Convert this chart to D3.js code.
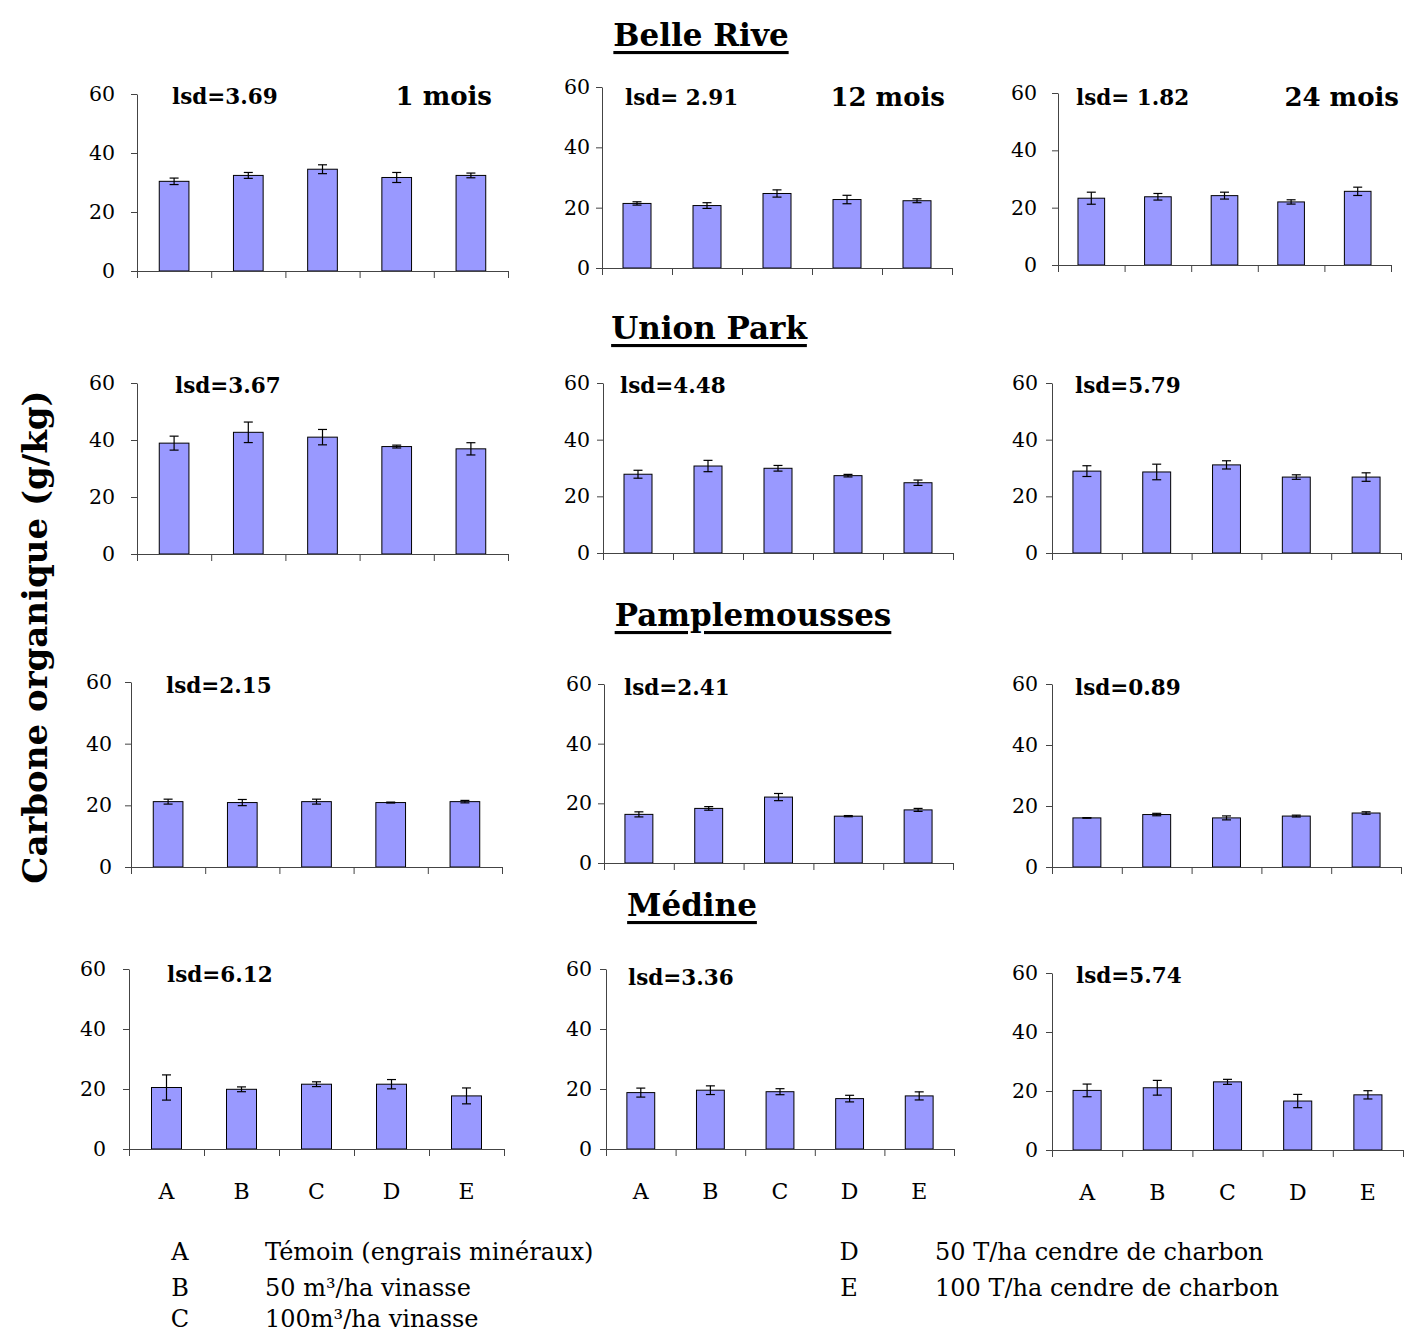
<!DOCTYPE html>
<html><head><meta charset="utf-8">
<script src="https://cdn.jsdelivr.net/npm/d3@7/dist/d3.min.js"></script>
<style>body{margin:0;background:#fff}svg{display:block}</style>
</head><body>
<script>
// ---------- DATA ----------
const categories = ["A","B","C","D","E"];
const sites = ["Belle Rive","Union Park","Pamplemousses","Médine"];
const periods = ["1 mois","12 mois","24 mois"];
const yTicks = [0,20,40,60];
const lsdLabels = [
  ["lsd=3.69","lsd= 2.91","lsd= 1.82"],
  ["lsd=3.67","lsd=4.48","lsd=5.79"],
  ["lsd=2.15","lsd=2.41","lsd=0.89"],
  ["lsd=6.12","lsd=3.36","lsd=5.74"]
];
// means [period][treatment]
const meansBelleRive     = [[30.4,32.4,34.5,31.7,32.4],[21.4,20.7,24.7,22.7,22.3],[23.3,23.8,24.2,22.0,25.7]];
const meansUnionPark     = [[38.9,42.7,41.0,37.7,36.9],[27.8,30.7,29.9,27.3,24.8],[28.9,28.6,31.1,26.8,26.8]];
const meansPamplemousses = [[21.2,20.9,21.2,20.9,21.2],[16.3,18.3,22.1,15.7,17.8],[16.1,17.2,16.1,16.7,17.7]];
const meansMedine        = [[20.5,19.9,21.6,21.6,17.7],[18.8,19.6,19.1,16.8,17.7],[20.2,21.1,23.1,16.6,18.7]];
// error half-widths
const errBelleRive     = [[1.1,1.0,1.5,1.7,0.8],[0.55,0.95,1.2,1.4,0.65],[2.1,1.15,1.2,0.75,1.45]];
const errUnionPark     = [[2.45,3.6,2.7,0.5,2.15],[1.4,2.0,1.0,0.45,0.95],[1.9,2.75,1.45,0.8,1.5]];
const errPamplemousses = [[0.8,1.0,0.8,0.15,0.4],[0.85,0.6,1.2,0.2,0.5],[0.1,0.4,0.65,0.3,0.4]];
const errMedine        = [[4.2,0.8,0.8,1.55,2.65],[1.5,1.45,1.0,1.1,1.35],[2.15,2.5,0.85,2.25,1.4]];
const legendLetters = ["A","B","C","D","E"];
const legendTexts = ["Témoin (engrais minéraux)","50 m³/ha vinasse","100m³/ha vinasse","50 T/ha cendre de charbon","100 T/ha cendre de charbon"];
const yTitle = "Carbone organique (g/kg)";

const allMeans = [meansBelleRive, meansUnionPark, meansPamplemousses, meansMedine];
const allErrs  = [errBelleRive, errUnionPark, errPamplemousses, errMedine];

// ---------- LAYOUT ----------
// [axisX, axisEndX, y60, y0, tickLabelGap, lsdX, lsdY]
const panelBox = [
  [[137,508,94,271,22,172,96],[602,952,87,268,12,625,97],[1058,1391,93,265,21,1076,97]],
  [[137,508,383,554,22,175,385],[603,953,383,553,13,620,385],[1052,1401,383,553,14,1075,385]],
  [[131,502,682,867,19,166,685],[604,953,684,863,12,624,687],[1052,1401,684,867,14,1075,687]],
  [[129,504,969,1149,23,167,974],[606,954,969,1149,14,628,977],[1052,1403,973,1150,14,1076,975]]
];
const titlePos = [[701,35],[709,328],[753,615],[692,905]];
const periodPos = [[492,96],[945,97],[1399,97]];

const W = 1404, H = 1335;
const FONT = "'DejaVu Serif', 'Liberation Serif', serif";
const svg = d3.select("body").append("svg").attr("width",W).attr("height",H)
  .style("font-family",FONT);

// site titles
sites.forEach((s,i)=>{
  svg.append("text").attr("x",titlePos[i][0]).attr("y",titlePos[i][1])
    .attr("text-anchor","middle").attr("dominant-baseline","central")
    .style("font-weight","bold").style("font-size","31px")
    .style("text-decoration","underline").text(s);
});
// period labels
periods.forEach((p,j)=>{
  svg.append("text").attr("x",periodPos[j][0]).attr("y",periodPos[j][1])
    .attr("text-anchor","end").attr("dominant-baseline","central")
    .style("font-weight","bold").style("font-size","26px").text(p);
});
// y title
svg.append("text").attr("transform","translate(35,637) rotate(-90)")
  .attr("text-anchor","middle").attr("dominant-baseline","central")
  .style("font-weight","bold").style("font-size","34px").text(yTitle);

sites.forEach((site,i)=>{
  periods.forEach((per,j)=>{
    const [ax, ex, y60, y0, gap, lx, ly] = panelBox[i][j];
    const means = allMeans[i][j], errs = allErrs[i][j];
    const g = svg.append("g");
    const x = d3.scaleBand().domain(categories).range([ax,ex]).paddingInner(0.6).paddingOuter(0.3);
    const xb = d3.scaleLinear().domain([0,categories.length]).range([ax,ex]);
    const y = d3.scaleLinear().domain([0,60]).range([y0,y60]);

    // bars
    g.selectAll("rect.bar").data(categories).join("rect")
      .attr("x",d=>x(d)).attr("width",x.bandwidth())
      .attr("y",(d,k)=>y(means[k])).attr("height",(d,k)=>y(0)-y(means[k]))
      .attr("fill","#9999ff").attr("stroke","#000").attr("stroke-width",1);
    // error bars
    const cx = d=>x(d)+x.bandwidth()/2;
    const cap = 4.5;
    g.selectAll("line.ev").data(categories).join("line")
      .attr("x1",cx).attr("x2",cx)
      .attr("y1",(d,k)=>y(means[k]-errs[k])).attr("y2",(d,k)=>y(means[k]+errs[k]))
      .attr("stroke","#000").attr("stroke-width",1.2);
    g.selectAll("line.et").data(categories).join("line")
      .attr("x1",d=>cx(d)-cap).attr("x2",d=>cx(d)+cap)
      .attr("y1",(d,k)=>y(means[k]+errs[k])).attr("y2",(d,k)=>y(means[k]+errs[k]))
      .attr("stroke","#000").attr("stroke-width",1.2);
    g.selectAll("line.eb").data(categories).join("line")
      .attr("x1",d=>cx(d)-cap).attr("x2",d=>cx(d)+cap)
      .attr("y1",(d,k)=>y(means[k]-errs[k])).attr("y2",(d,k)=>y(means[k]-errs[k]))
      .attr("stroke","#000").attr("stroke-width",1.2);

    // y axis
    const yA = g.append("g").attr("transform",`translate(${ax},0)`)
      .call(d3.axisLeft(y).tickValues(yTicks).tickSize(6).tickSizeOuter(0).tickPadding(gap-6));
    yA.selectAll("text").style("font-family",FONT).style("font-size","20.5px").attr("fill","#000");
    yA.selectAll("path,line").attr("stroke","#444");
    // x axis (boundary ticks)
    const xA = g.append("g").attr("transform",`translate(0,${y0})`)
      .call(d3.axisBottom(xb).tickValues(d3.range(categories.length+1)).tickFormat("").tickSize(7).tickSizeOuter(0));
    xA.selectAll("path,line").attr("stroke","#444");
    // category labels on bottom row
    if (i === sites.length-1) {
      g.selectAll("text.cat").data(categories).join("text")
        .attr("x",d=>cx(d)).attr("y",y0+42)
        .attr("text-anchor","middle").attr("dominant-baseline","central")
        .style("font-size","22px").text(d=>d);
    }
    // lsd
    g.append("text").attr("x",lx).attr("y",ly).attr("dominant-baseline","central")
      .style("font-weight","bold").style("font-size","21.5px").text(lsdLabels[i][j]);
  });
});

// legend
const legPos = [[180,265,1252],[180,265,1288],[180,265,1319],[849,935,1252],[849,935,1288]];
legendLetters.forEach((L,k)=>{
  const [lx,tx,ly] = legPos[k];
  svg.append("text").attr("x",lx).attr("y",ly).attr("text-anchor","middle")
    .attr("dominant-baseline","central").style("font-size","24px").text(L);
  svg.append("text").attr("x",tx).attr("y",ly)
    .attr("dominant-baseline","central").style("font-size","24px").text(legendTexts[k]);
});
</script>
</body></html>
